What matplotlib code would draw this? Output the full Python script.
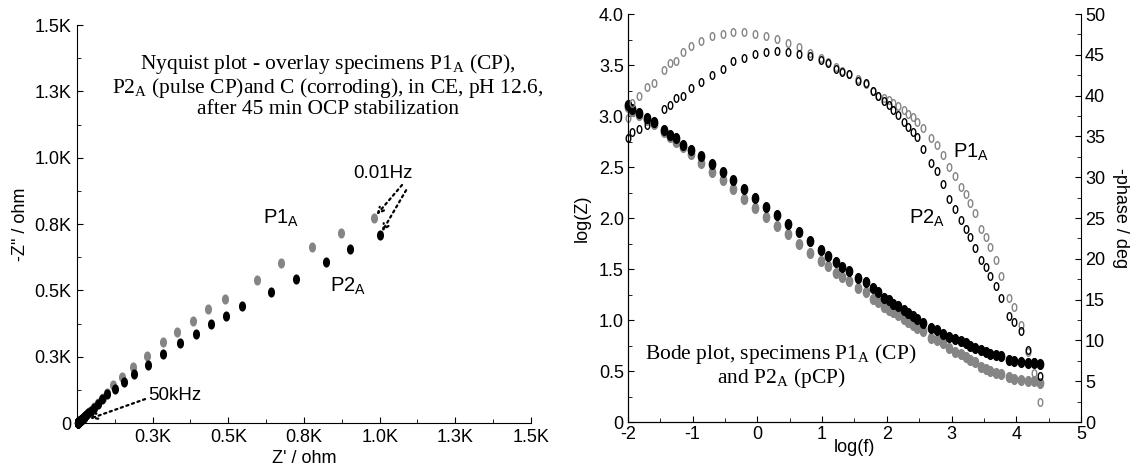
import numpy as np
import matplotlib
matplotlib.use('Agg')
import matplotlib.pyplot as plt
from matplotlib.path import Path
from matplotlib.transforms import Affine2D
from matplotlib.ticker import MultipleLocator

plt.rcParams['font.family'] = ['Liberation Sans', 'DejaVu Sans']
plt.rcParams['axes.unicode_minus'] = False

# ---- Nyquist data (ohm), low frequency first ----
p1_re = [981, 872, 776, 674, 595, 489, 433, 383, 330, 284, 231, 185, 149, 119, 99,
         85, 69, 57, 48, 39, 32, 27, 24, 21, 19, 18, 15, 14, 12, 11, 10, 10, 9, 9, 8,
         7.5, 7.1, 6.7, 6.3, 5.4, 5.3, 5.0, 4.6, 4.2, 4.1, 3.9, 3.7, 3.5, 3.2, 3.0,
         2.9, 2.8, 2.8, 2.7, 2.6, 2.5, 2.5, 2.5, 2.4]
p1_im = [773, 716, 663, 603, 539, 467, 430, 384, 343, 305, 252, 211, 173, 143, 113,
         93, 75, 61, 50, 40, 33, 27, 24, 20, 18, 16, 13, 12, 10, 10, 9, 8, 8, 7, 6,
         5.9, 5.4, 5.0, 4.6, 3.8, 3.5, 3.2, 2.8, 2.5, 2.3, 2.1, 1.9, 1.7, 1.4, 1.3,
         1.1, 1.0, 0.9, 0.7, 0.6, 0.5, 0.4, 0.3, 0.1]
p2_re = [1001, 902, 823, 723, 641, 545, 494, 443, 393, 340, 284, 234, 188, 155, 126,
         99, 82, 68, 55, 46, 38, 31, 28, 24, 22, 20, 17, 16, 14, 13, 12, 11, 10, 10,
         9, 8, 8, 7.6, 7.0, 6.4, 6.1, 5.7, 5.4, 5.2, 5.0, 4.9, 4.7, 4.5, 4.3, 4.2,
         4.0, 4.0, 3.9, 3.6, 3.5, 3.4, 3.4, 3.4, 3.3]
p2_im = [708, 656, 607, 543, 494, 441, 403, 373, 335, 301, 260, 219, 185, 155, 128,
         109, 90, 70, 56, 46, 37, 31, 27, 23, 20, 18, 15, 14, 12, 11, 10, 9, 8, 8,
         7, 6, 5.5, 5.2, 4.6, 4.0, 3.6, 3.2, 2.8, 2.6, 2.3, 2.1, 2.0, 1.8, 1.6, 1.4,
         1.3, 1.2, 1.1, 0.8, 0.8, 0.7, 0.5, 0.4, 0.3]

nyq_ticks = [0, 250, 500, 750, 1000, 1250, 1500]
nyq_xlabels = ['', '0.3K', '0.5K', '0.8K', '1.0K', '1.3K', '1.5K']
nyq_ylabels = ['0', '0.3K', '0.5K', '0.8K', '1.0K', '1.3K', '1.5K']

# ---- Bode data ----
logf = [-2.0, -1.93, -1.83, -1.70, -1.60, -1.45, -1.35, -1.26, -1.15, -1.03,
        -0.87, -0.70, -0.53, -0.37, -0.20, -0.03, 0.13, 0.30, 0.47, 0.64,
        0.81, 0.98, 1.09, 1.22, 1.31, 1.42, 1.56, 1.68, 1.78, 1.86,
        1.96, 2.03, 2.09, 2.17, 2.26, 2.32, 2.40, 2.47, 2.56, 2.69,
        2.77, 2.87, 2.96, 3.05, 3.14, 3.22, 3.29, 3.37, 3.46, 3.53,
        3.60, 3.68, 3.77, 3.89, 3.96, 4.07, 4.18, 4.27, 4.36]
p1_logz = [3.09, 3.05, 3.01, 2.96, 2.92, 2.84, 2.79, 2.75, 2.70, 2.63,
           2.54, 2.45, 2.37, 2.28, 2.19, 2.10, 2.01, 1.92, 1.84, 1.75,
           1.66, 1.58, 1.53, 1.46, 1.42, 1.38, 1.31, 1.27, 1.21, 1.18,
           1.13, 1.10, 1.08, 1.05, 1.01, 0.98, 0.95, 0.92, 0.89, 0.82,
           0.80, 0.77, 0.73, 0.69, 0.67, 0.64, 0.61, 0.59, 0.54, 0.52,
           0.50, 0.48, 0.47, 0.44, 0.42, 0.41, 0.40, 0.40, 0.38]
p2_logz = [3.11, 3.07, 3.03, 2.98, 2.94, 2.86, 2.81, 2.78, 2.72, 2.67,
           2.61, 2.53, 2.45, 2.37, 2.28, 2.20, 2.11, 2.03, 1.94, 1.86,
           1.77, 1.69, 1.63, 1.57, 1.52, 1.48, 1.41, 1.37, 1.31, 1.27,
           1.22, 1.20, 1.16, 1.14, 1.10, 1.07, 1.04, 1.01, 0.97, 0.92,
           0.90, 0.86, 0.83, 0.81, 0.79, 0.77, 0.75, 0.73, 0.71, 0.69,
           0.67, 0.66, 0.65, 0.61, 0.60, 0.59, 0.58, 0.58, 0.57]
p1_phase = [37.2, 39.1, 40.0, 41.1, 41.6, 43.1, 44.0, 44.3, 45.4, 46.1,
            46.7, 47.3, 47.6, 47.8, 47.8, 47.5, 47.3, 46.9, 46.4, 45.9,
            45.2, 44.6, 44.1, 43.5, 43.0, 42.6, 42.0, 41.4, 40.6, 39.9,
            39.7, 39.5, 39.1, 38.7, 38.2, 37.8, 37.4, 36.8, 36.0, 34.8,
            33.9, 32.7, 31.3, 30.2, 28.8, 27.9, 26.9, 25.6, 23.7, 22.7,
            21.4, 19.9, 17.9, 15.2, 14.1, 11.9, 8.6, 6.0, 2.4]
p2_phase = [34.8, 35.5, 35.9, 36.4, 36.6, 38.4, 38.8, 39.7, 40.0, 40.9,
            41.7, 42.5, 43.3, 44.2, 44.6, 45.1, 45.4, 45.5, 45.4, 45.1,
            44.8, 44.4, 44.0, 43.3, 42.9, 42.6, 41.8, 41.5, 40.6, 40.0,
            39.4, 38.8, 38.2, 37.6, 36.8, 36.2, 35.6, 34.9, 33.5, 31.7,
            30.7, 29.2, 27.3, 26.1, 24.7, 23.7, 22.7, 21.3, 19.9, 19.0,
            17.9, 16.7, 15.2, 13.0, 12.3, 11.1, 8.8, 7.3, 5.6]

logz_ticks = [0, 0.5, 1.0, 1.5, 2.0, 2.5, 3.0, 3.5, 4.0]
logz_labels = ['0', '0.5', '1.0', '1.5', '2.0', '2.5', '3.0', '3.5', '4.0']

GRAY = '#858585'
SERIF = ['Liberation Serif', 'DejaVu Serif']
ell = Path.unit_circle().transformed(Affine2D().scale(0.65, 1.0))
ring = Path.unit_circle().transformed(Affine2D().scale(0.6, 1.0))

fig = plt.figure(figsize=(11.37, 4.70), dpi=100)

# ---------------- Nyquist ----------------
ax1 = fig.add_axes([0.0677, 0.100, 0.3993, 0.8468])
ax1.plot(p1_re, p1_im, ls='none', marker=ell, ms=6.3, mfc=GRAY, mec=GRAY, clip_on=False)
ax1.plot(p2_re, p2_im, ls='none', marker=ell, ms=6.3, mfc='black', mec='black', clip_on=False)
ax1.set_xlim(0, 1500)
ax1.set_ylim(0, 1500)
ax1.set_xticks(nyq_ticks)
ax1.set_xticklabels(nyq_xlabels)
ax1.set_yticks(nyq_ticks)
ax1.set_yticklabels(nyq_ylabels)
ax1.xaxis.set_minor_locator(MultipleLocator(125))
ax1.yaxis.set_minor_locator(MultipleLocator(125))
ax1.spines['top'].set_visible(False)
ax1.spines['right'].set_visible(False)
ax1.tick_params(which='both', direction='in', labelsize=13, pad=4)
ax1.tick_params(which='major', length=4)
ax1.tick_params(which='minor', length=3)
ax1.set_xlabel("Z' / ohm", fontsize=13, labelpad=3)
ax1.set_ylabel('-Z" / ohm', fontsize=13, labelpad=4)

ax1.text(0.553, 0.849,
         'Nyquist plot - overlay specimens P1$_\\mathregular{A}$ (CP),\n'
         'P2$_\\mathregular{A}$ (pulse CP)and C (corroding), in CE, pH 12.6,\n'
         'after 45 min OCP stabilization',
         transform=ax1.transAxes, ha='center', va='center', multialignment='center',
         family=SERIF, fontsize=15.5, linespacing=1.0)
ax1.text(0.449, 0.515, 'P1$_\\mathregular{A}$', transform=ax1.transAxes,
         ha='center', va='center', fontsize=14.5)
ax1.text(0.597, 0.344, 'P2$_\\mathregular{A}$', transform=ax1.transAxes,
         ha='center', va='center', fontsize=14.5)
ax1.text(0.674, 0.628, '0.01Hz', transform=ax1.transAxes,
         ha='center', va='center', fontsize=13.5)
ax1.text(0.156, 0.070, '50kHz', transform=ax1.transAxes,
         ha='left', va='center', fontsize=13.5)
arrow = dict(arrowstyle='->', linestyle=':', lw=1.6, color='black',
             shrinkA=0, shrinkB=3)
ax1.annotate('', xy=(p1_re[0], p1_im[0]), xytext=(0.716, 0.598),
             textcoords='axes fraction', arrowprops=arrow)
ax1.annotate('', xy=(p2_re[0], p2_im[0]), xytext=(0.725, 0.585),
             textcoords='axes fraction', arrowprops=arrow)
ax1.annotate('', xy=(p2_re[-1], p2_im[-1]), xytext=(0.150, 0.060),
             textcoords='axes fraction',
             arrowprops=dict(arrowstyle='->', linestyle=':', lw=1.6, color='black',
                             shrinkA=0, shrinkB=9))

# ---------------- Bode ----------------
ax2 = fig.add_axes([0.5523, 0.1021, 0.3984, 0.8681])
ax3 = ax2.twinx()
ax2.plot(logf, p1_logz, ls='none', marker=ell, ms=7, mfc=GRAY, mec=GRAY, clip_on=False)
ax2.plot(logf, p2_logz, ls='none', marker=ell, ms=7, mfc='black', mec='black', clip_on=False)
ax3.plot(logf, p1_phase, ls='none', marker=ring, ms=5.5, mfc='none', mec=GRAY, mew=1.0, clip_on=False)
ax3.plot(logf, p2_phase, ls='none', marker=ring, ms=5.5, mfc='none', mec='black', mew=1.0, clip_on=False)

ax2.set_xlim(-2, 5)
ax2.set_ylim(0, 4)
ax3.set_ylim(0, 50)
ax2.set_xticks(range(-2, 6))
ax2.set_yticks(logz_ticks)
ax2.set_yticklabels(logz_labels)
ax3.set_yticks(range(0, 55, 5))
ax2.xaxis.set_minor_locator(MultipleLocator(0.5))
ax2.yaxis.set_minor_locator(MultipleLocator(0.25))
ax3.yaxis.set_minor_locator(MultipleLocator(2.5))
for a in (ax2, ax3):
    a.spines['top'].set_visible(False)
    a.tick_params(which='both', direction='in', labelsize=13, pad=3)
    a.tick_params(which='major', length=4)
    a.tick_params(which='minor', length=3)
ax2.spines['right'].set_visible(False)
ax2.set_ylabel('log(Z)', fontsize=13, labelpad=6)
ax2.set_xlabel('log(f)', fontsize=13)
ax2.xaxis.set_label_coords(0.501, -0.042)
ax3.set_ylabel('-phase / deg', fontsize=13, rotation=270, labelpad=17)

ax2.text(0.338, 0.137, 'Bode plot, specimens P1$_\\mathregular{A}$ (CP)\n'
         'and P2$_\\mathregular{A}$ (pCP)', transform=ax2.transAxes,
         ha='center', va='center', multialignment='center', family=SERIF,
         fontsize=15.5, linespacing=1.0)
ax2.text(0.757, 0.662, 'P1$_\\mathregular{A}$', transform=ax2.transAxes,
         ha='center', va='center', fontsize=14.5)
ax2.text(0.660, 0.498, 'P2$_\\mathregular{A}$', transform=ax2.transAxes,
         ha='center', va='center', fontsize=14.5)

fig.savefig('out.png', dpi=100)
